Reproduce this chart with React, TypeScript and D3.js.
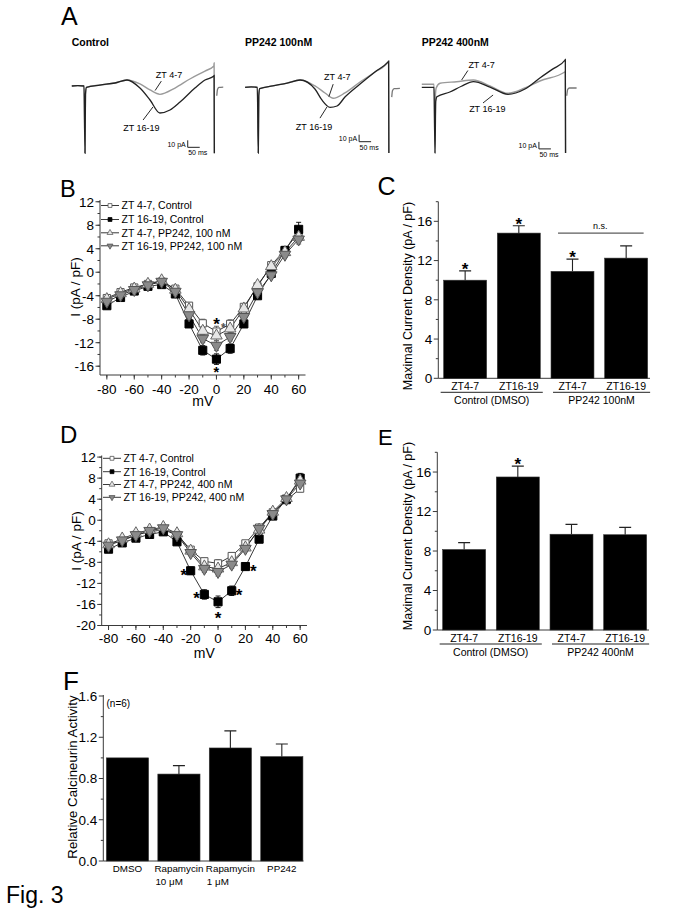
import React from "react";
import * as d3 from "d3";

const FONT = "'Liberation Sans', Arial, Helvetica, sans-serif";

// ---------------- Panel A: traces (time ms, current pA)
const traceTitles = ["Control", "PP242 100nM", "PP242 400nM"];

const ctrlZT47: number[][] = [[-55,0],[-30,0.5],[-4,0],[0,-96],[2,-12],[6,-2],[62,1.4],[125,4.3],[175,8.6],[229,2.9],[271,-5.7],[312,-11.9],[375,-2.9],[437,10],[500,21.4],[537,28.6],[538,33],[539,-96]];
const ctrlZT1619: number[][] = [[-55,0],[-30,0.5],[-4,0],[0,-96],[2,-12],[6,-2],[62,1.4],[125,4.3],[175,8.6],[229,-2.9],[271,-20],[312,-38.6],[354,-34.3],[396,-22.9],[458,-2.9],[500,8.6],[537,14.3],[538,15],[539,-96]];
const ctrlTail: number[][] = [[549,-14],[552,-5],[558,-2],[576,-1.5]];

const pp100ZT47: number[][] = [[-55,0],[-30,0.5],[-4,0],[0,-94],[2,-12],[6,-2],[60,2],[120,6],[174,10.4],[236,1.9],[278,-8.1],[312,-15.7],[361,-8.1],[424,7.6],[486,21.9],[542,36.6],[543,38],[544,-94]];
const pp100ZT1619: number[][] = [[-55,0],[-30,0.5],[-4,0],[0,-94],[2,-12],[6,-2],[60,2],[120,6],[174,10.4],[236,-2.4],[265,-18.1],[299,-28.6],[328,-26.7],[361,-13.9],[424,4.7],[486,21.9],[542,36.6],[543,37],[544,-94]];
const pp100Tail: number[][] = [[556,-14],[559,-5],[566,-2],[590,-1.5]];

const pp400ZT47: number[][] = [[-55,4.3],[-4,4.3],[0,-94],[2,-10],[5,-1],[21,5.7],[90,8],[160,10.4],[229,1.9],[304,-8.6],[375,-1],[437,9],[542,22.3],[543,23],[544,-94]];
const pp400ZT1619: number[][] = [[-55,0],[-4,0],[0,-94],[3,-20],[8,-13.4],[62,-6.7],[110,1.5],[160,8],[229,0.4],[304,-10],[375,-2.4],[437,13.3],[490,26],[542,39],[543,40],[544,-94]];
const pp400Tail: number[][] = [[549,-12],[553,-3],[560,-1],[590,-1]];

// ---------------- Panels B & D: I-V data
const voltages = [-80,-70,-60,-50,-40,-30,-20,-10,0,10,20,30,40,50,60];

const legendB = ["ZT 4-7, Control", "ZT 16-19, Control", "ZT 4-7, PP242, 100 nM", "ZT 16-19, PP242, 100 nM"];
const bZT47Ctrl = [-4.4,-3.4,-2.6,-2.0,-1.6,-2.8,-5.7,-8.7,-10.1,-8.8,-5.9,-2.4,1.2,3.8,6.8];
const bZT1619Ctrl = [-5.7,-4.3,-3.2,-2.4,-2.1,-3.7,-8.8,-13.3,-14.8,-13.0,-8.8,-4.0,-0.2,3.7,7.3];
const bZT47PP = [-4.6,-3.6,-2.8,-2.0,-1.4,-3.0,-6.3,-10.0,-10.8,-9.6,-6.2,-2.2,1.0,3.4,6.0];
const bZT1619PP = [-5.0,-3.9,-3.0,-2.2,-1.6,-3.3,-7.3,-11.3,-12.5,-11.0,-7.6,-3.4,-0.5,3.0,5.6];
const bErrZT47Ctrl = [0.4,0.4,0.3,0.3,0.3,0.4,0.5,0.7,0.9,0.7,0.5,0.4,0.4,0.5,0.7];
const bErrZT1619Ctrl = [0.5,0.4,0.4,0.3,0.3,0.4,0.6,0.8,0.9,0.8,0.6,0.5,0.5,0.6,1.2];
const bErrZT47PP = [0.4,0.4,0.3,0.3,0.3,0.4,0.5,0.7,0.8,0.7,0.5,0.4,0.4,0.5,0.7];
const bErrZT1619PP = [0.4,0.4,0.3,0.3,0.3,0.4,0.6,0.7,0.8,0.7,0.6,0.4,0.4,0.5,0.8];
const bStars = [[0,-8.1,17],[5,-9.0,12],[0,-16.3,14.5]];

const legendD = ["ZT 4-7, Control", "ZT 16-19, Control", "ZT 4-7, PP242, 400 nM", "ZT 16-19, PP242, 400 nM"];
const dZT47Ctrl = [-4.4,-3.9,-2.8,-2.2,-1.8,-2.8,-5.6,-7.8,-8.2,-6.8,-4.4,-1.4,1.5,3.8,6.0];
const dZT1619Ctrl = [-5.5,-4.3,-3.4,-2.7,-2.2,-4.1,-9.6,-14.1,-15.5,-13.4,-8.8,-3.6,0.8,4.0,8.0];
const dZT47PP = [-4.6,-3.5,-2.5,-1.8,-1.3,-2.5,-5.8,-8.8,-9.2,-8.0,-5.2,-1.8,1.6,4.2,7.5];
const dZT1619PP = [-4.8,-3.8,-2.8,-2.0,-1.5,-2.8,-6.2,-9.2,-9.8,-8.4,-5.4,-1.6,1.2,4.0,7.0];
const dErrZT47Ctrl = [0.4,0.4,0.3,0.3,0.3,0.4,0.5,0.6,0.7,0.6,0.5,0.4,0.4,0.5,0.6];
const dErrZT1619Ctrl = [0.5,0.4,0.4,0.3,0.3,0.4,0.7,0.9,1.1,0.9,0.6,0.5,0.5,0.6,0.9];
const dErrZT47PP = [0.4,0.4,0.3,0.3,0.3,0.4,0.5,0.6,0.7,0.6,0.5,0.4,0.4,0.5,0.8];
const dErrZT1619PP = [0.4,0.4,0.3,0.3,0.3,0.4,0.5,0.7,0.8,0.7,0.5,0.4,0.4,0.5,0.7];
const dStars = [[-25,-9.6,17],[-15.7,-14.0,17],[0,-17.7,17],[15.4,-13.4,17],[25.7,-8.8,17]];

// ---------------- Panels C & E: bar data
const barCats = ["ZT4-7", "ZT16-19", "ZT4-7", "ZT16-19"];
const groupsC = ["Control (DMSO)", "PP242 100nM"];
const groupsE = ["Control (DMSO)", "PP242 400nM"];
const cValues = [10.0, 14.8, 10.9, 12.25];
const cErrors = [0.95, 0.75, 1.25, 1.25];
const cStars = [0, 1, 2];
const eValues = [8.15, 15.5, 9.7, 9.65];
const eErrors = [0.7, 1.1, 1.0, 0.75];
const eStars = [1];

// ---------------- Panel F
const fCats = ["DMSO", "Rapamycin 10 μM", "Rapamycin 1 μM", "PP242"];
const fLine1 = ["DMSO", "Rapamycin", "Rapamycin", "PP242"];
const fLine2 = ["", "10 μM", "1 μM", ""];
const fValues = [1.0, 0.843, 1.096, 1.012];
const fErrors = [0, 0.082, 0.166, 0.123];

// ---------------- styles
const ivStyles = [
  { type: d3.symbolSquare, size: 52, fill: "#fff", stroke: "#555", rot: 0 },
  { type: d3.symbolSquare, size: 66, fill: "#000", stroke: "#000", rot: 0 },
  { type: d3.symbolTriangle, size: 58, fill: "#e6e6e6", stroke: "#666", rot: 0 },
  { type: d3.symbolTriangle, size: 58, fill: "#8a8a8a", stroke: "#555", rot: 180 },
];
const sym = (t: any, s: number) => d3.symbol().type(t).size(s)() as string;
const AX = "#3a3a3a";

function TracePanel({ x0, y0, titleX, title, gray, black, tail, bar, labels, leaders }: any) {
  const x = d3.scaleLinear().domain([0, 50]).range([x0, x0 + 12]);
  const y = d3.scaleLinear().domain([0, 10]).range([y0, y0 - 7]);
  const line = d3.line<number[]>().x(d => x(d[0])).y(d => y(d[1])).curve(d3.curveMonotoneX);
  return (
    <g>
      <text x={titleX} y={45.5} fontSize={10.5} fontWeight="bold" fontFamily={FONT}>{title}</text>
      <path d={line(gray) as string} fill="none" stroke="#9a9a9a" strokeWidth={1.4} />
      <path d={line(black) as string} fill="none" stroke="#222" strokeWidth={1.3} />
      <path d={line(tail) as string} fill="none" stroke="#777" strokeWidth={1.3} />
      {leaders.map((l: number[], i: number) => (
        <line key={i} x1={x(l[0])} y1={y(l[1])} x2={x(l[2])} y2={y(l[3])} stroke="#111" strokeWidth={0.9} />
      ))}
      {labels.map((l: any, i: number) => (
        <text key={i} x={x(l.t)} y={y(l.I)} fontSize={9} textAnchor="middle" fontFamily={FONT}>{l.text}</text>
      ))}
      <path d={`M${x(bar[0])},${y(bar[1] + 10)}V${y(bar[1])}H${x(bar[0] + 50)}`} fill="none" stroke="#222" strokeWidth={1} />
      <text x={x(bar[0]) - 2} y={y(bar[1] + 5) + 3} fontSize={7} textAnchor="end" fontFamily={FONT}>10 pA</text>
      <text x={x(bar[0]) + 0.5} y={y(bar[1]) + 8} fontSize={7} fontFamily={FONT}>50 ms</text>
    </g>
  );
}

function IVPanel({ x, y, series, errs, legend, legendX, legendYs, stars, yMajor, yMinor, tickLabelY, mvY, ylabX, ylabY }: any) {
  const [ax0, ax1] = x.range();
  const [yb, yt] = y.range();
  const line = d3.line<number>().x((_, i) => x(voltages[i])).y(d => y(d));
  const xMajor = d3.range(-80, 61, 20);
  const xMinor = d3.range(-80, 61, 10);
  return (
    <g fontFamily={FONT}>
      <line x1={ax0} y1={yt} x2={ax0} y2={yb} stroke={AX} />
      <line x1={ax0} y1={yb} x2={ax1} y2={yb} stroke={AX} />
      {yMinor.map((v: number) => <line key={"ym" + v} x1={ax0 - 2.5} x2={ax0} y1={y(v)} y2={y(v)} stroke={AX} />)}
      {yMajor.map((v: number) => (
        <g key={"y" + v}>
          <line x1={ax0 - 4.5} x2={ax0} y1={y(v)} y2={y(v)} stroke={AX} />
          <text x={ax0 - 6} y={y(v) + 4.8} fontSize={13.5} textAnchor="end">{v}</text>
        </g>
      ))}
      {xMinor.map((v: number) => <line key={"xm" + v} x1={x(v)} x2={x(v)} y1={yb} y2={yb + 2.5} stroke={AX} />)}
      {xMajor.map((v: number) => (
        <g key={"x" + v}>
          <line x1={x(v)} x2={x(v)} y1={yb} y2={yb + 4.5} stroke={AX} />
          <text x={x(v)} y={tickLabelY} fontSize={13.5} textAnchor="middle">{v}</text>
        </g>
      ))}
      <text x={(ax0 + ax1) / 2} y={mvY} fontSize={14} textAnchor="middle">mV</text>
      <text transform={`translate(${ylabX},${ylabY}) rotate(-90)`} fontSize={13.5} textAnchor="middle" dy="0.35em">I (pA / pF)</text>
      {series.map((s: number[], k: number) => (
        <path key={"l" + k} d={line(s) as string} fill="none" stroke="#222" strokeWidth={0.9} />
      ))}
      {series.map((s: number[], k: number) => s.map((v, i) => {
        const e = errs[k][i];
        const cx = x(voltages[i]);
        return (
          <path key={"e" + k + "-" + i} d={`M${cx},${y(v - e)}V${y(v + e)}M${cx - 2.5},${y(v - e)}H${cx + 2.5}M${cx - 2.5},${y(v + e)}H${cx + 2.5}`} stroke={ivStyles[k].stroke} strokeWidth={0.9} fill="none" />
        );
      }))}
      {series.map((s: number[], k: number) => s.map((v, i) => (
        <path key={"m" + k + "-" + i} d={sym(ivStyles[k].type, ivStyles[k].size)} transform={`translate(${x(voltages[i])},${y(v)}) rotate(${ivStyles[k].rot})`} fill={ivStyles[k].fill} stroke={ivStyles[k].stroke} strokeWidth={1} />
      )))}
      {stars.map((s: number[], i: number) => (
        <text key={"s" + i} x={x(s[0])} y={y(s[1]) + s[2] * 0.6} fontSize={s[2]} fontWeight="bold" textAnchor="middle" fill={s[2] < 13 ? "#555" : "#000"}>*</text>
      ))}
      {legend.map((t: string, k: number) => (
        <g key={"lg" + k}>
          <line x1={legendX} x2={legendX + 18} y1={legendYs[k]} y2={legendYs[k]} stroke="#222" strokeWidth={0.9} />
          <path d={sym(ivStyles[k].type, 15)} transform={`translate(${legendX + 9},${legendYs[k]}) rotate(${ivStyles[k].rot})`} fill={ivStyles[k].fill} stroke={ivStyles[k].stroke} strokeWidth={0.8} />
          <text x={legendX + 20.5} y={legendYs[k] + 3.8} fontSize={10.5}>{t}</text>
        </g>
      ))}
    </g>
  );
}

function BarPanel({ x, y, values, errors, groups, stars, ylabX, ylabY, ns }: any) {
  const [ax0, ax1] = x.range();
  const [yb, yt] = y.range();
  const bw = x.bandwidth();
  const idx = values.map((_: number, i: number) => String(i));
  return (
    <g fontFamily={FONT}>
      <line x1={ax0} y1={yt} x2={ax0} y2={yb} stroke={AX} />
      <line x1={ax0} y1={yb} x2={ax1 - 3} y2={yb} stroke={AX} />
      {d3.range(2, 19, 4).map(v => <line key={"m" + v} x1={ax0 - 2.5} x2={ax0} y1={y(v)} y2={y(v)} stroke={AX} />)}
      {d3.range(0, 17, 4).map(v => (
        <g key={"t" + v}>
          <line x1={ax0 - 4.5} x2={ax0} y1={y(v)} y2={y(v)} stroke={AX} />
          <text x={ax0 - 6} y={y(v) + 4.8} fontSize={13.5} textAnchor="end">{v}</text>
        </g>
      ))}
      <text transform={`translate(${ylabX},${ylabY}) rotate(-90)`} fontSize={12.5} textAnchor="middle" dy="0.35em">Maximal Current Density (pA / pF)</text>
      {values.map((v: number, i: number) => {
        const bx = x(idx[i]);
        const cx = bx + bw / 2;
        const top = y(v + errors[i]);
        return (
          <g key={i}>
            <path d={`M${cx},${y(v)}V${top}M${cx - 6},${top}H${cx + 6}`} stroke="#222" strokeWidth={1.1} fill="none" />
            <rect x={bx} y={y(v)} width={bw} height={yb - y(v)} fill="#000" stroke="#333" strokeWidth={0.6} />
            <text x={cx} y={yb + 11.5} fontSize={10.5} textAnchor="middle">{barCats[i]}</text>
            {stars.includes(i) && <text x={cx} y={top - 6 + 10} fontSize={17} fontWeight="bold" textAnchor="middle">*</text>}
          </g>
        );
      })}
      {groups.map((g: string, gi: number) => {
        const left = x(idx[gi * 2]) + (gi === 0 ? -3 : 2);
        const right = x(idx[gi * 2 + 1]) + bw + 2.5;
        return (
          <g key={g}>
            <line x1={left} x2={right} y1={yb + 14} y2={yb + 14} stroke="#222" />
            <text x={(left + right) / 2} y={yb + 26} fontSize={10.5} textAnchor="middle">{g}</text>
          </g>
        );
      })}
      {ns && (
        <g>
          <line x1={x(idx[2]) + 7} x2={x(idx[3]) + bw - 4} y1={y(ns)} y2={y(ns)} stroke="#333" />
          <text x={(x(idx[2]) + x(idx[3]) + bw) / 2 + 1} y={y(ns) - 4} fontSize={9} textAnchor="middle">n.s.</text>
        </g>
      )}
    </g>
  );
}

export default function App() {
  const frames = [
    { x0: 85, y0: 86, titleX: 71.7, gray: ctrlZT47, black: ctrlZT1619, tail: ctrlTail, bar: [428, -87.6],
      labels: [{ text: "ZT 4-7", t: 350, I: 12 }, { text: "ZT 16-19", t: 235, I: -64 }],
      leaders: [[318, 7, 292, -6.5], [242, -48.6, 283, -30]] },
    { x0: 258.3, y0: 87.3, titleX: 245, gray: pp100ZT47, black: pp100ZT1619, tail: pp100Tail, bar: [420, -77.7],
      labels: [{ text: "ZT 4-7", t: 329, I: 10.4 }, { text: "ZT 16-19", t: 232, I: -61 }],
      leaders: [[312, 4.5, 294, -13.4], [257, -44, 286, -28.1]] },
    { x0: 435, y0: 87.3, titleX: 421.7, gray: pp400ZT47, black: pp400ZT1619, tail: pp400Tail, bar: [433, -88],
      labels: [{ text: "ZT 4-7", t: 194, I: 27.6 }, { text: "ZT 16-19", t: 218, I: -35.3 }],
      leaders: [[137, 24, 111, 10.4], [242, -11, 200, -22.4]] },
  ];

  const xB = d3.scaleLinear().domain([-85, 65]).range([100, 305.5]);
  const yB = d3.scaleLinear().domain([-17.5, 12.3]).range([375, 200]);
  const xD = d3.scaleLinear().domain([-85, 65]).range([101.7, 307]);
  const yD = d3.scaleLinear().domain([-20, 12.3]).range([625.5, 455.5]);

  const idx4 = ["0", "1", "2", "3"];
  const xC = d3.scaleBand().domain(idx4).range([438.3, 653]).paddingInner(0.2).paddingOuter(0.1);
  const yC = d3.scaleLinear().domain([0, 18]).range([378.3, 201.7]);
  const xE = d3.scaleBand().domain(idx4).range([437.3, 652]).paddingInner(0.2).paddingOuter(0.1);
  const yE = d3.scaleLinear().domain([0, 18]).range([630, 452.3]);

  const xF = d3.scaleBand().domain(fCats).range([103.3, 306]).paddingInner(0.18).paddingOuter(0.06);
  const yF = d3.scaleLinear().domain([0, 1.6]).range([861, 696]);
  const fbw = xF.bandwidth();

  return (
    <svg width={679} height={919} viewBox="0 0 679 919" style={{ position: "absolute", left: 0, top: 0, background: "#fff" }} fontFamily={FONT}>
      <rect x={0} y={0} width={679} height={919} fill="#fff" />
      <text x={61} y={25} fontSize={25}>A</text>
      <text x={60} y={196.7} fontSize={23.5}>B</text>
      <text x={377.5} y={195} fontSize={25}>C</text>
      <text x={60} y={443} fontSize={24}>D</text>
      <text x={378} y={445} fontSize={22}>E</text>
      <text x={63} y={690} fontSize={26}>F</text>
      <text x={6} y={903} fontSize={23}>Fig. 3</text>

      {frames.map((f, i) => (
        <TracePanel key={i} {...f} title={traceTitles[i]} />
      ))}

      <IVPanel x={xB} y={yB}
        series={[bZT47Ctrl, bZT1619Ctrl, bZT47PP, bZT1619PP]}
        errs={[bErrZT47Ctrl, bErrZT1619Ctrl, bErrZT47PP, bErrZT1619PP]}
        legend={legendB} legendX={101} legendYs={[205.5, 219.5, 232.8, 245.8]}
        stars={bStars} yMajor={d3.range(-16, 13, 4)} yMinor={d3.range(-16, 13, 2)}
        tickLabelY={394} mvY={406} ylabX={75} ylabY={287} />

      <IVPanel x={xD} y={yD}
        series={[dZT47Ctrl, dZT1619Ctrl, dZT47PP, dZT1619PP]}
        errs={[dErrZT47Ctrl, dErrZT1619Ctrl, dErrZT47PP, dErrZT1619PP]}
        legend={legendD} legendX={103} legendYs={[458.3, 471.7, 484.5, 497.3]}
        stars={dStars} yMajor={d3.range(-20, 13, 4)} yMinor={d3.range(-20, 13, 2)}
        tickLabelY={643} mvY={658} ylabX={76} ylabY={541} />

      <BarPanel x={xC} y={yC} values={cValues} errors={cErrors} groups={groupsC} stars={cStars} ylabX={408} ylabY={296} ns={14.8} />
      <BarPanel x={xE} y={yE} values={eValues} errors={eErrors} groups={groupsE} stars={eStars} ylabX={408} ylabY={536} />

      <g fontFamily={FONT}>
        <line x1={103.3} y1={yF(1.6) - 1} x2={103.3} y2={yF(0)} stroke={AX} />
        <line x1={103.3} y1={yF(0)} x2={303.5} y2={yF(0)} stroke={AX} />
        {d3.range(0.2, 1.6, 0.4).map(v => <line key={"fm" + v} x1={100.8} x2={103.3} y1={yF(v)} y2={yF(v)} stroke={AX} />)}
        {[0, 0.4, 0.8, 1.2, 1.6].map(v => (
          <g key={"ft" + v}>
            <line x1={98.8} x2={103.3} y1={yF(v)} y2={yF(v)} stroke={AX} />
            <text x={97.3} y={yF(v) + 4.8} fontSize={13.5} textAnchor="end">{d3.format(".1f")(v)}</text>
          </g>
        ))}
        <text transform={`translate(72.5,777) rotate(-90)`} fontSize={13.3} textAnchor="middle" dy="0.35em">Relative Calcineurin Activity</text>
        <text x={106.5} y={707} fontSize={10}>(n=6)</text>
        {fValues.map((v, i) => {
          const bx = xF(fCats[i]) as number;
          const cx = bx + fbw / 2;
          const top = yF(v + fErrors[i]);
          return (
            <g key={i}>
              {fErrors[i] > 0 && <path d={`M${cx},${yF(v)}V${top}M${cx - 6},${top}H${cx + 6}`} stroke="#222" strokeWidth={1.1} fill="none" />}
              <rect x={bx} y={yF(v)} width={fbw} height={yF(0) - yF(v)} fill="#000" stroke="#333" strokeWidth={0.6} />
              <text x={cx} y={872} fontSize={9.8} textAnchor="middle">{fLine1[i]}</text>
              {fLine2[i] && <text x={cx - 23.5} y={884.5} fontSize={9.8}>{fLine2[i]}</text>}
            </g>
          );
        })}
      </g>
    </svg>
  );
}
